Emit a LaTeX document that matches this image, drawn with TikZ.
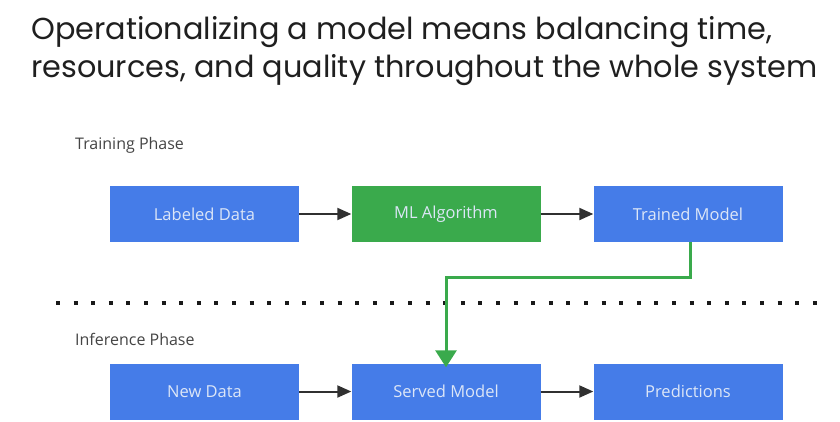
\documentclass[tikz,border=0pt]{standalone}
\usepackage{fontspec}
\setmainfont{Open Sans}
\newfontfamily\titlefont{Poppins}
\usetikzlibrary{arrows.meta}
\definecolor{boxblue}{HTML}{457CE8}
\definecolor{boxgreen}{HTML}{3AAA4C}
\definecolor{boxtext}{HTML}{DCE6F7}
\definecolor{lbl}{HTML}{444444}
\definecolor{arr}{HTML}{303030}
\tikzset{
  box/.style={minimum width=189pt, minimum height=56pt, inner sep=0pt, text=boxtext, font=\fontsize{16.5}{19}\selectfont},
  bluebox/.style={box, fill=boxblue},
  greenbox/.style={box, fill=boxgreen},
  flow/.style={draw=arr, line width=2pt, -{Triangle[length=14pt,width=12pt]}},
  feed/.style={draw=boxgreen, line width=3pt, -{Triangle[length=17pt,width=21pt]}},
  phase/.style={text=lbl, anchor=west, inner sep=0pt, font=\fontsize{16}{19}\selectfont},
  titleline/.style={anchor=base west, inner sep=0pt, text=black!88, font=\titlefont\fontsize{30.3}{38}\selectfont},
}
\begin{document}
\begin{tikzpicture}[x=1pt,y=-1pt]
\useasboundingbox (0,0) rectangle (840,421);
\node[titleline] (title1) at (31,39) {Operationalizing a model means balancing time,};
\node[titleline] (title2) at (31,77) {resources, and quality throughout the whole system};
\node[phase] (tp) at (75,145) {Training Phase};
\node[phase] (ip) at (75,339) {Inference Phase};
\node[bluebox] (ld) at (204.5,214) {Labeled Data};
\node[greenbox] (ml) at (446,214) {ML Algorithm};
\node[bluebox] (tm) at (688,214) {Trained Model};
\node[bluebox] (nd) at (204.5,391.5) {New Data};
\node[bluebox] (sm) at (446,391.5) {Served Model};
\node[bluebox] (pr) at (688,391.5) {Predictions};
\coordinate (dl) at (56,303);
\coordinate (dr) at (820,303);
\draw[line width=4pt, dash pattern=on 4pt off 13.6pt, draw=black!90] (dl) -- (dr);
\draw[flow] (ld) -- (ml);
\draw[flow] (ml) -- (tm);
\draw[flow] (nd) -- (sm);
\draw[flow] (sm) -- (pr);
\draw[feed] ([xshift=2pt]tm.south) -- ++(0,35) -| ([yshift=-4pt]sm.north);
\end{tikzpicture}
\end{document}
